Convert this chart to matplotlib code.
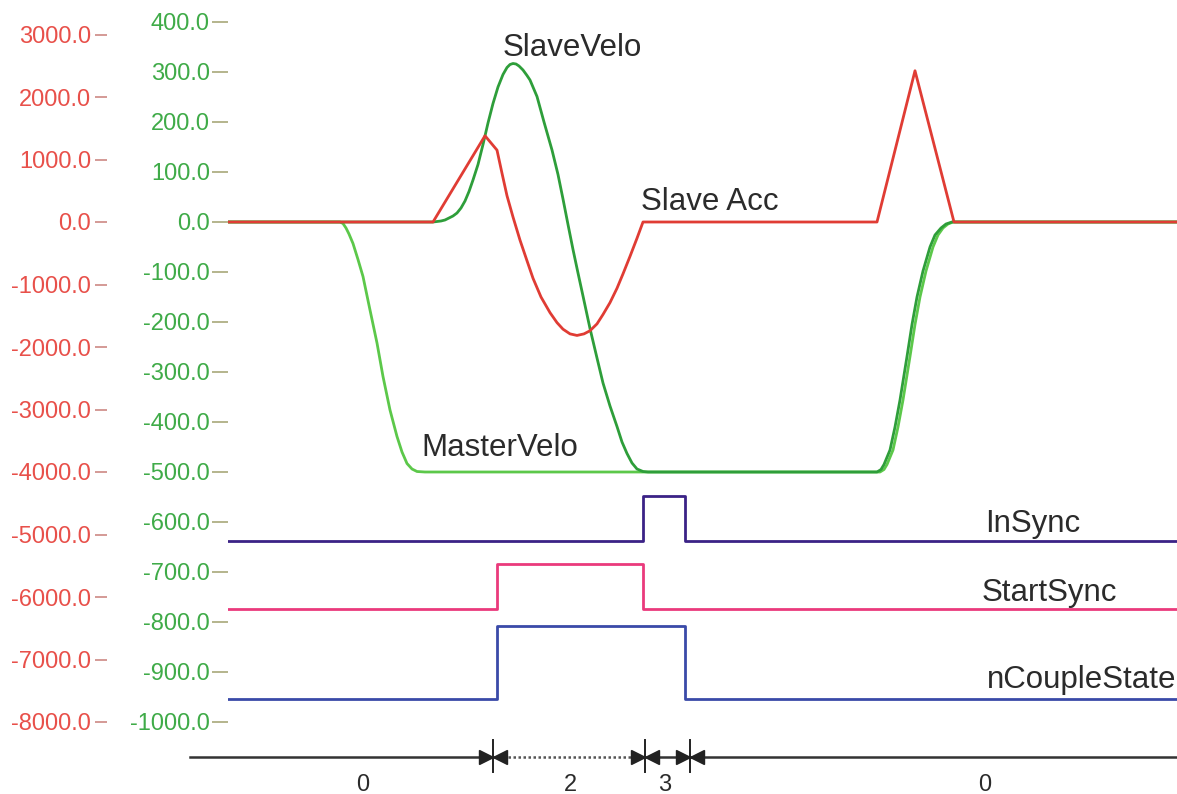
import matplotlib
matplotlib.use("Agg")
import matplotlib.pyplot as plt
from matplotlib.ticker import FormatStrFormatter

plt.rcParams['font.family'] = ['Liberation Sans', 'DejaVu Sans']

# ---------------- data (time in ms) ----------------
master_t = [0, 112, 115, 118, 121, 125, 130, 135, 142, 149, 155, 162, 169, 174, 179, 184, 189, 197,
            652, 656, 659, 665, 670, 675, 682, 687, 692, 698, 705, 710, 715, 720, 725, 949]
master_v = [0, 0, -3, -12, -24, -43, -75, -109, -176, -242, -309, -376, -429, -460, -483, -494, -499, -500,
            -500, -495, -485, -456, -410, -356, -269, -205, -150, -98, -50, -26, -12, -4, 0, 0]

slave_t = [0, 205, 209, 213, 217, 221, 225, 229, 233, 237, 241, 245, 250, 255, 260, 265, 270, 275,
           279, 282, 285, 288, 291, 295, 299, 302, 309, 316, 324, 330, 335, 340, 345, 350, 355, 362,
           369, 375, 382, 389, 394, 399, 404, 409, 415, 420,
           649, 653, 656, 662, 667, 672, 679, 684, 689, 695, 702, 707, 713, 718, 724, 949]
slave_v = [0, 0, 1, 2, 4, 8, 12, 18, 28, 42, 61, 84, 115, 155, 198, 237, 270, 295,
           309, 315, 317, 316, 312, 304, 293, 284, 251, 200, 144, 95, 46, -5, -55, -102, -148, -213,
           -272, -322, -368, -409, -440, -463, -482, -494, -499, -500,
           -500, -495, -485, -456, -410, -356, -269, -205, -150, -98, -50, -26, -12, -4, 0, 0]

acc_t = [0, 205, 257, 269, 274, 279, 285, 292, 299, 305, 313, 322, 329, 335, 342, 349, 356, 362,
         369, 375, 382, 389, 395, 402, 409, 415, 649, 687, 726, 949]
acc_v = [0, 0, 1380, 1150, 780, 420, 80, -290, -620, -900, -1200, -1450, -1610, -1715, -1790, -1815,
         -1790, -1740, -1630, -1480, -1290, -1060, -830, -550, -260, 0, 0, 2420, 0, 0]

insync_t = [0, 415, 457, 949]
insync_s = [0, 1, 0, 0]
startsync_t = [0, 269, 415, 949]
startsync_s = [0, 1, 0, 0]
couple_t = [0, 269, 457, 949]
couple_s = [0, 1, 0, 0]

phase_bounds = [265, 417, 462]
phase_labels = ['0', '2', '3', '0']
phase_label_t = [135, 342, 437, 757]

velo_ticks = [400, 300, 200, 100, 0, -100, -200, -300, -400, -500, -600, -700, -800, -900, -1000]
acc_ticks = [3000, 2000, 1000, 0, -1000, -2000, -3000, -4000, -5000, -6000, -7000, -8000]

# ---------------- figure ----------------
W, H = 1177, 794
fig = plt.figure(figsize=(W / 100, H / 100), dpi=100)
left_px, right_px, top_px, bot_px = 228, 1177, 22, 722
ax = fig.add_axes([left_px / W, (H - bot_px) / H, (right_px - left_px) / W, (bot_px - top_px) / H])
ax.set_xlim(0, 949)
ax.set_ylim(-1000, 400)
ax.patch.set_alpha(0)
for s in ax.spines.values():
    s.set_visible(False)
ax.set_xticks([])

green_lbl = '#3fab48'
red_lbl = '#e8504a'
ax.set_yticks(velo_ticks)
ax.yaxis.set_major_formatter(FormatStrFormatter('%.1f'))
ax.tick_params(axis='y', direction='out', length=11.5, width=1.4, pad=1.5,
               colors='#b4b48c', labelcolor=green_lbl, labelsize=17)

# velocities
ax.plot(master_t, master_v, color='#5cc84a', lw=2.0, zorder=3)
ax.plot(slave_t, slave_v, color='#2e9e3a', lw=2.0, zorder=3)

# digital traces (drawn with display offsets in velocity units)
ax.step(insync_t, [-637 + 89 * s for s in insync_s], where='post', color='#3b2286', lw=2.0)
ax.step(startsync_t, [-773 + 90 * s for s in startsync_s], where='post', color='#ea3a7c', lw=2.0)
ax.step(couple_t, [-953 + 145 * s for s in couple_s], where='post', color='#3a4aa8', lw=2.0)

txt = '#2b2b2b'
fs = 22.5
ax.text(275, 332, 'SlaveVelo', fontsize=fs, color=txt, ha='left', va='baseline')
ax.text(413, 24, 'Slave Acc', fontsize=fs, color=txt, ha='left', va='baseline')
ax.text(193, -468, 'MasterVelo', fontsize=fs, color=txt, ha='left', va='baseline')
ax.text(757, -620, 'InSync', fontsize=fs, color=txt, ha='left', va='baseline')
ax.text(754, -758, 'StartSync', fontsize=fs, color=txt, ha='left', va='baseline')
ax.text(759, -932, 'nCoupleState', fontsize=fs, color=txt, ha='left', va='baseline')

# phase annotation below
yline = -1070
segs = [-38] + phase_bounds + [949]
for i in range(len(segs) - 1):
    ls = (0, (1, 1)) if i == 1 else '-'
    col = '#555555' if i == 1 else '#333333'
    ax.plot([segs[i], segs[i + 1]], [yline, yline], color=col, lw=1.8, ls=ls, clip_on=False)
for b in phase_bounds:
    ax.plot([b, b], [-1036, -1100], color='#222222', lw=1.4, clip_on=False)
    ax.plot([b - 7], [yline], marker='>', color='#222222', ms=10, clip_on=False)
    ax.plot([b + 7], [yline], marker='<', color='#222222', ms=10, clip_on=False)
for lbl, t in zip(phase_labels, phase_label_t):
    ax.text(t, -1126, lbl, fontsize=17, color=txt, ha='center', va='center')

# acceleration axis
ax2 = ax.twinx()
ax2.set_ylim(-8000, 3200)
ax2.patch.set_alpha(0)
for s in ax2.spines.values():
    s.set_visible(False)
ax2.yaxis.set_ticks_position('left')
ax2.spines['left'].set_position(('outward', 87))
ax2.set_yticks(acc_ticks)
ax2.yaxis.set_major_formatter(FormatStrFormatter('%.1f'))
ax2.tick_params(axis='y', direction='out', length=8.6, width=1.4, pad=3,
                colors='#d49a96', labelcolor=red_lbl, labelsize=17)
ax2.plot(acc_t, acc_v, color='#e03c34', lw=2.0, zorder=4)

fig.savefig('out.png', dpi=100)
